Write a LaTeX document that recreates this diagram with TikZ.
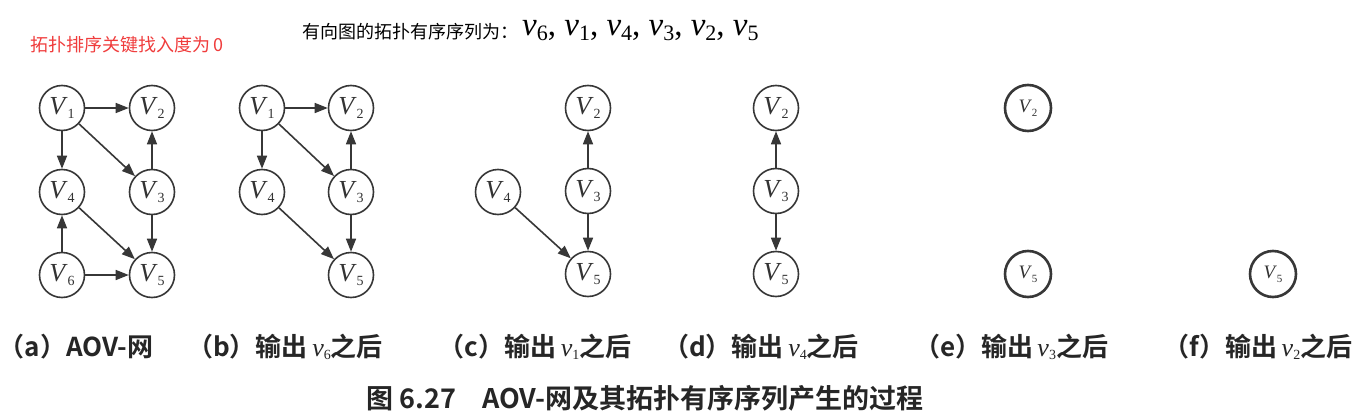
\documentclass[tikz,border=0pt]{standalone}
\usepackage{fontspec}
\newfontfamily\cjk{Noto Sans CJK SC}
\newfontfamily\cjkb{Noto Sans CJK SC Bold}
\newfontfamily\tms{Liberation Serif}
\usetikzlibrary{arrows.meta}
\definecolor{lc}{RGB}{55,55,55}
\definecolor{redtxt}{RGB}{240,60,60}
% #1 letter, #2 size, #3 subscript size, #4 drop (pt), #5 subscript
\newcommand{\symb}[5]{{\fontsize{#2}{#2}\selectfont\tms\itshape #1\/}\raisebox{-#4pt}{\fontsize{#3}{#3}\selectfont\tms #5}}
\newcommand{\vnd}[1]{\symb{V}{26}{14}{4}{#1}}
\newcommand{\vln}[1]{\symb{V}{19}{11}{4}{#1}}
\newcommand{\vsq}[1]{\symb{v}{33}{22}{5}{#1}}
\newcommand{\vlb}[1]{\symb{v}{26}{14}{3}{#1}}
\begin{document}
\begin{tikzpicture}[x=1pt,y=-1pt,
 vtx/.style={circle,draw=lc,line width=1.6pt,minimum size=45pt,inner sep=0pt,text=black!80},
 lone/.style={circle,draw=lc,line width=2.6pt,minimum size=46pt,inner sep=0pt,text=black!80},
 edge/.style={draw=lc,line width=1.6pt,-{Triangle[length=13pt,width=10pt]}},
 lbl/.style={font=\cjkb\fontsize{26}{26}\selectfont,text=black!85,inner sep=0pt},
 captxt/.style={font=\cjkb\fontsize{27}{27}\selectfont,text=black!85,inner sep=0pt}]
\useasboundingbox (0,0) rectangle (1357,415);
\fill[white] (0,0) rectangle (1357,415);
% top texts
\node[anchor=west,text=redtxt,font=\cjk\fontsize{18}{18}\selectfont,inner sep=0pt] (hint) at (30,45) {拓扑排序关键找入度为\,0};
\node[anchor=west,font=\cjk\fontsize{18}{18}\selectfont,inner sep=0pt] (seqlbl) at (302,32) {有向图的拓扑有序序列为：};
\node[anchor=west,font=\tms\fontsize{33}{33}\selectfont,inner sep=0pt] (seq) at (522,31) {\vsq{6}, \vsq{1}, \vsq{4}, \vsq{3}, \vsq{2}, \vsq{5}};
% (a)
\node[vtx] (a1) at (62,108) {\vnd{1}};
\node[vtx] (a2) at (152,108) {\vnd{2}};
\node[vtx] (a4) at (62,192) {\vnd{4}};
\node[vtx] (a3) at (152,192) {\vnd{3}};
\node[vtx] (a6) at (62,275) {\vnd{6}};
\node[vtx] (a5) at (152,275) {\vnd{5}};
\draw[edge] (a1) -- (a2);
\draw[edge] (a1) -- (a4);
\draw[edge] (a1) -- (a3);
\draw[edge] (a3) -- (a2);
\draw[edge] (a4) -- (a5);
\draw[edge] (a3) -- (a5);
\draw[edge] (a6) -- (a4);
\draw[edge] (a6) -- (a5);
% (b)
\node[vtx] (b1) at (262,108) {\vnd{1}};
\node[vtx] (b2) at (351,108) {\vnd{2}};
\node[vtx] (b4) at (262,192) {\vnd{4}};
\node[vtx] (b3) at (351,192) {\vnd{3}};
\node[vtx] (b5) at (351,275) {\vnd{5}};
\draw[edge] (b1) -- (b2);
\draw[edge] (b1) -- (b4);
\draw[edge] (b1) -- (b3);
\draw[edge] (b3) -- (b2);
\draw[edge] (b4) -- (b5);
\draw[edge] (b3) -- (b5);
% (c)
\node[vtx] (c2) at (588,108) {\vnd{2}};
\node[vtx] (c4) at (498,192) {\vnd{4}};
\node[vtx] (c3) at (588,191) {\vnd{3}};
\node[vtx] (c5) at (588,274) {\vnd{5}};
\draw[edge] (c3) -- (c2);
\draw[edge] (c3) -- (c5);
\draw[edge] (c4) -- (c5);
% (d)
\node[vtx] (d2) at (776,108) {\vnd{2}};
\node[vtx] (d3) at (776,191) {\vnd{3}};
\node[vtx] (d5) at (776,274) {\vnd{5}};
\draw[edge] (d3) -- (d2);
\draw[edge] (d3) -- (d5);
% (e)
\node[lone] (e2) at (1028,108) {\vln{2}};
\node[lone] (e5) at (1028,274) {\vln{5}};
% (f)
\node[lone] (f5) at (1273,274) {\vln{5}};
% labels
\node[lbl] (la) at (76,347) {（a）AOV-网};
\node[lbl] (lb) at (285,347) {（b）输出\,\vlb{6}之后};
\node[lbl] (lc) at (535,347) {（c）输出\,\vlb{1}之后};
\node[lbl] (ld) at (761,347) {（d）输出\,\vlb{4}之后};
\node[lbl] (le) at (1011,347) {（e）输出\,\vlb{3}之后};
\node[lbl] (lf) at (1258,347) {（f）输出\,\vlb{2}之后};
\node[captxt] (capt) at (645,398) {图 6.27\hspace{26pt}AOV-网及其拓扑有序序列产生的过程};
\end{tikzpicture}
\end{document}
